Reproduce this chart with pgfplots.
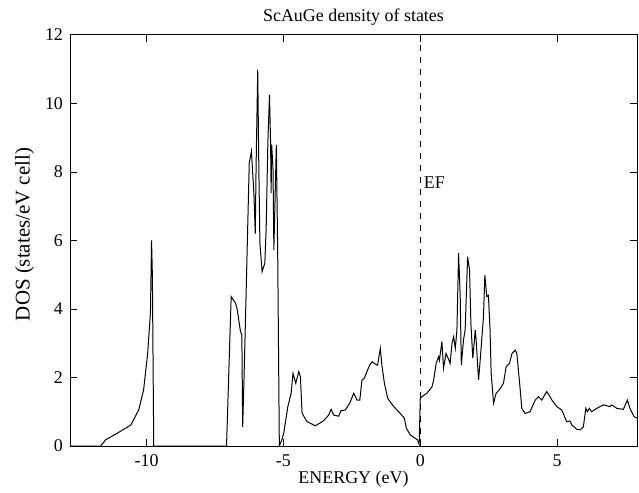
\documentclass[border=0pt]{standalone}
\usepackage{fontspec}
\setmainfont{Liberation Serif}
\usepackage{pgfplots}
\pgfplotsset{compat=1.18}

\begin{document}
\begin{tikzpicture}
\begin{axis}[
  scale only axis, width=283.5bp, height=205.5bp,
  xmin=-12.8, xmax=7.92, ymin=0, ymax=12,
  xtick={-10,-5,0,5}, xticklabels={-10,-5,0,5},
  ytick={0,2,4,6,8,10,12}, yticklabels={0,2,4,6,8,10,12},
  tick align=inside, major tick length=3.5bp,
  axis line style={line width=0.5pt}, every tick/.style={line width=0.5pt},
  font=\fontsize{9}{11}\selectfont,
  xticklabel style={yshift=-1bp},
  every axis title shift=0pt,
  title={ScAuGe density of states},
  title style={at={(axis description cs:0.5,1)}, anchor=center, yshift=9bp},
  xlabel={ENERGY (eV)},
  xlabel style={at={(axis description cs:0.5,0)}, anchor=center, yshift=-16.5bp},
  ylabel={DOS (states/eV cell)},
  ylabel style={at={(axis description cs:0,0.5)}, anchor=center, yshift=22.7bp,
    xshift=3bp, font=\fontsize{10.5}{12}\selectfont},
]
% total DOS
\addplot[black, line width=0.5pt] coordinates {
(-12.8,0) (-11.68,0) (-11.5,0.18) (-11.06,0.38) (-10.58,0.61) (-10.29,1.05)
(-10.11,1.64) (-9.96,2.72) (-9.86,3.9) (-9.82,6.0) (-9.79,5.0) (-9.74,0)
(-7.08,0) (-6.91,4.36) (-6.75,4.17) (-6.69,3.99) (-6.57,3.34) (-6.52,3.24)
(-6.49,0.56) (-6.44,2.0) (-6.36,4.6) (-6.25,8.26) (-6.17,8.6) (-6.08,7.38)
(-6.03,6.2) (-6.0,8.15) (-5.94,10.98) (-5.9,8.15) (-5.86,5.92) (-5.78,5.09)
(-5.68,5.34) (-5.63,6.4) (-5.57,8.85) (-5.51,10.25) (-5.47,8.85) (-5.45,7.38)
(-5.43,8.8) (-5.38,8.06) (-5.35,5.72) (-5.26,8.79) (-5.21,5.63) (-5.15,0)
(-5.05,0.2) (-4.99,0.37) (-4.84,1.15) (-4.72,1.54) (-4.65,2.12) (-4.55,1.83)
(-4.44,2.17) (-4.38,2.02) (-4.32,0.96) (-4.14,0.71) (-3.83,0.59) (-3.53,0.74)
(-3.35,0.9) (-3.26,1.07) (-3.16,0.9) (-2.98,0.87) (-2.9,1.03) (-2.74,1.05)
(-2.58,1.25) (-2.43,1.54) (-2.31,1.34) (-2.21,1.34) (-2.13,1.93) (-2.05,1.97)
(-1.95,2.17) (-1.85,2.36) (-1.76,2.46) (-1.68,2.41) (-1.56,2.36) (-1.46,2.85)
(-1.4,2.34) (-1.31,1.83) (-1.19,1.39) (-0.97,1.15) (-0.73,0.95) (-0.58,0.81)
(-0.51,0.52) (-0.36,0.32) (-0.18,0.22) (-0.1,0.18) (-0.04,0.05) (0.0,1.39)
(0.06,1.44) (0.24,1.54) (0.43,1.73) (0.49,1.93) (0.58,2.41) (0.67,2.61)
(0.7,2.5) (0.79,3.05) (0.85,2.27) (0.94,2.7) (1.0,2.6) (1.09,2.41)
(1.16,3.0) (1.22,3.19) (1.28,2.85) (1.34,3.39) (1.4,5.63) (1.46,4.36)
(1.5,2.36) (1.58,3.1) (1.64,3.39) (1.73,5.53) (1.8,5.14) (1.85,3.58)
(1.92,2.56) (2.01,3.39) (2.04,3.1) (2.13,1.93) (2.19,2.51) (2.31,3.78)
(2.36,4.99) (2.43,4.36) (2.49,4.4) (2.55,3.39) (2.59,2.12) (2.68,1.25)
(2.77,1.54) (2.89,1.64) (3.04,1.83) (3.14,2.32) (3.26,2.41) (3.35,2.7)
(3.47,2.8) (3.53,2.7) (3.62,1.93) (3.71,1.1) (3.83,0.95) (4.01,1.0)
(4.2,1.34) (4.32,1.44) (4.44,1.34) (4.62,1.59) (4.74,1.44) (4.81,1.34)
(4.99,1.15) (5.17,1.05) (5.35,0.71) (5.47,0.73) (5.54,0.61) (5.72,0.49)
(5.84,0.47) (5.96,0.56) (6.05,1.1) (6.1,1.0) (6.18,1.1) (6.26,1.0)
(6.45,1.1) (6.69,1.2) (6.93,1.15) (7.0,1.2) (7.18,1.1) (7.42,1.07)
(7.57,1.34) (7.66,1.1) (7.81,0.86) (7.95,0.8)
};
% Fermi level
\addplot[black, dashed, line width=0.45pt] coordinates {(0,0) (0,12)};
\node[anchor=west, inner sep=0pt] at (axis cs:0.12,7.7) {EF};
\end{axis}
\pgfresetboundingbox
\path ([xshift=-35bp,yshift=-23.5bp]current axis.south west) rectangle ([xshift=1bp,yshift=17.5bp]current axis.north east);
\end{tikzpicture}
\end{document}
